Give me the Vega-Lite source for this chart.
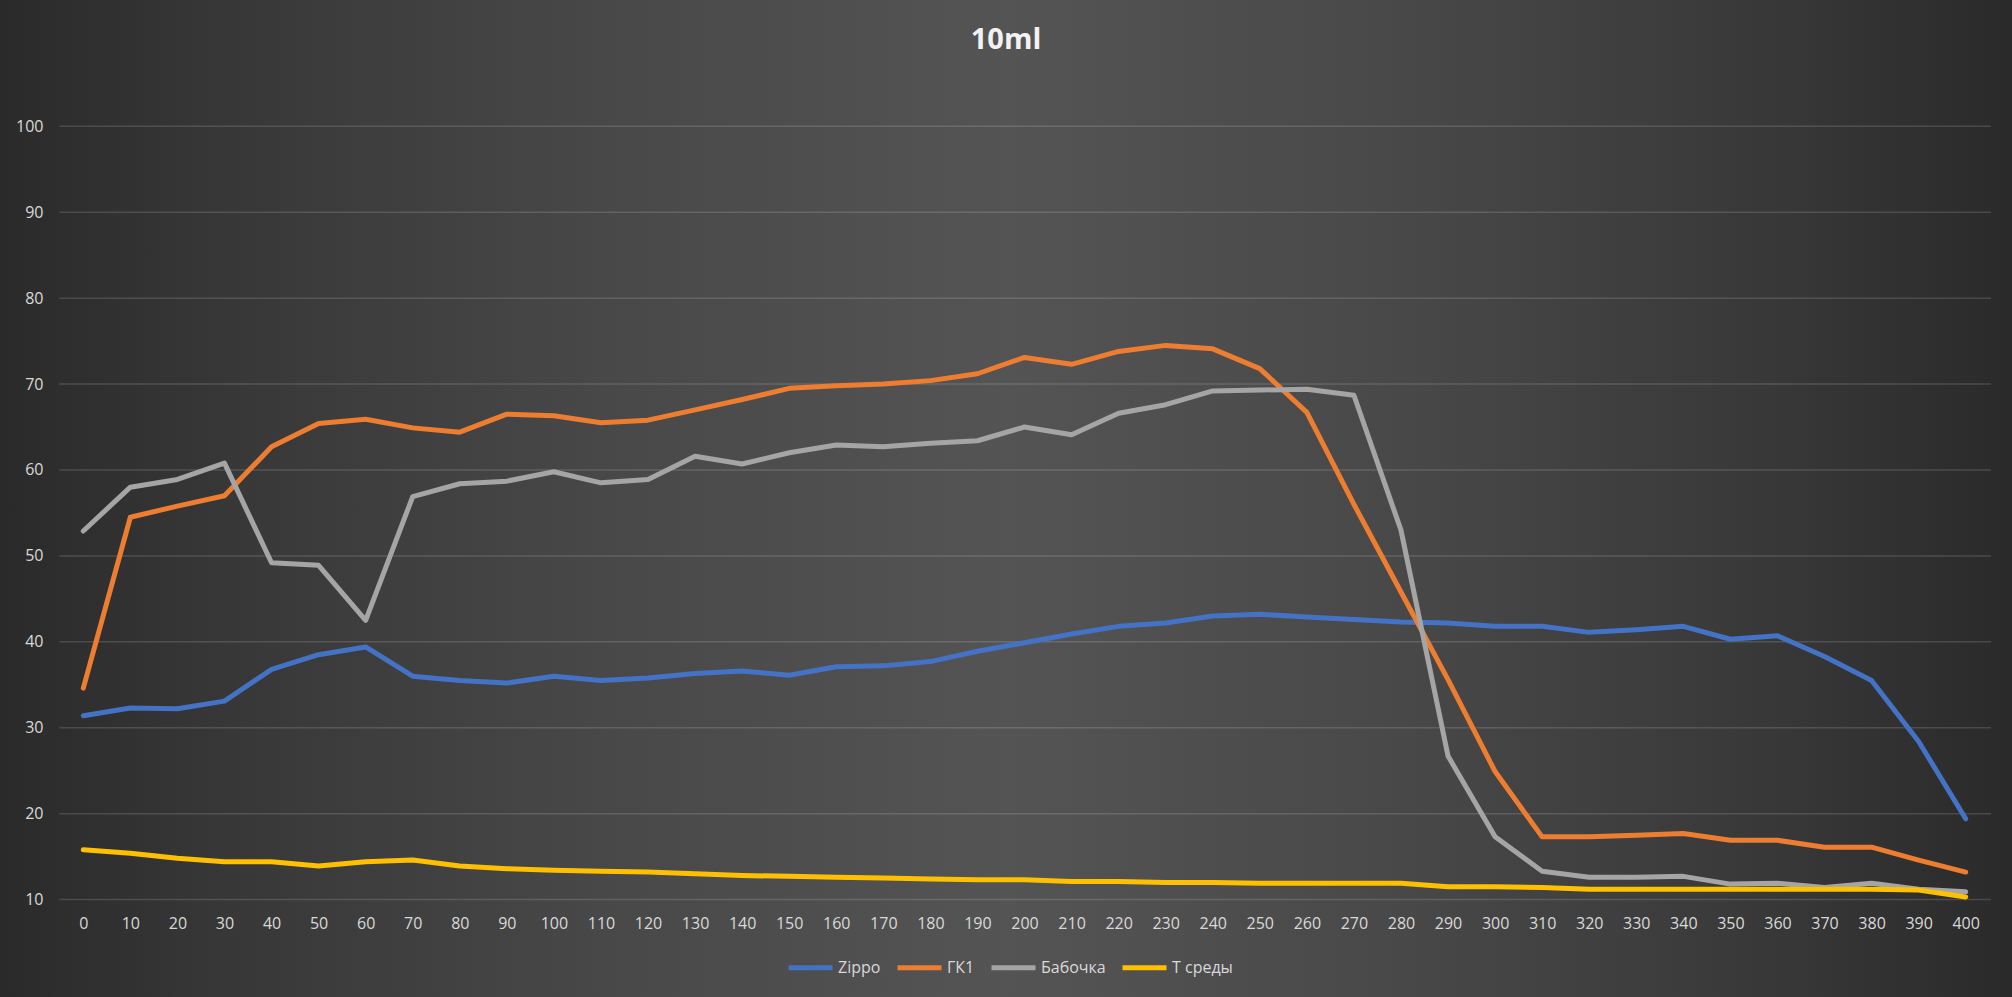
{
  "$schema": "https://vega.github.io/schema/vega-lite/v6.json",
  "width": 2012,
  "height": 997,
  "autosize": {"type": "none"},
  "padding": 0,
  "background": "#2c2c2c",
  "title": {
    "text": "10ml",
    "fontSize": 29,
    "fontWeight": "bold",
    "font": "Open Sans",
    "color": "#f2f2f2",
    "anchor": "middle",
    "baseline": "alphabetic",
    "offset": -50,
    "dy": 28
  },
  "config": {
    "font": "Open Sans",
    "view": {
      "stroke": null,
      "fill": {
        "gradient": "linear",
        "x1": 0, "y1": 0.5, "x2": 1, "y2": 0.5,
        "stops": [
          {"offset": 0, "color": "#2a2a2a"},
          {"offset": 0.12, "color": "#383838"},
          {"offset": 0.3, "color": "#484848"},
          {"offset": 0.5, "color": "#545454"},
          {"offset": 0.7, "color": "#484848"},
          {"offset": 0.88, "color": "#383838"},
          {"offset": 1, "color": "#2a2a2a"}
        ]
      }
    }
  },
  "layer": [
    {
      "data": {"values": [{"g": 10}, {"g": 20}, {"g": 30}, {"g": 40}, {"g": 50}, {"g": 60}, {"g": 70}, {"g": 80}, {"g": 90}, {"g": 100}]},
      "mark": {"type": "rule", "color": "#ffffff", "opacity": 0.14, "strokeWidth": 1.5},
      "encoding": {
        "y": {"field": "g", "type": "quantitative", "scale": {"domain": [-1.34, 114.7], "nice": false, "zero": false}},
        "x": {"datum": -5.1, "type": "quantitative", "scale": {"domain": [-17.7, 409.84], "nice": false, "zero": false}},
        "x2": {"datum": 405.4}
      }
    },
    {
      "data": {"values": [
        {"t": 0, "Zippo": 31.4, "ГК1": 34.6, "Бабочка": 52.9, "T среды": 15.8},
        {"t": 10, "Zippo": 32.3, "ГК1": 54.5, "Бабочка": 58.0, "T среды": 15.4},
        {"t": 20, "Zippo": 32.2, "ГК1": 55.8, "Бабочка": 58.9, "T среды": 14.8},
        {"t": 30, "Zippo": 33.1, "ГК1": 57.0, "Бабочка": 60.8, "T среды": 14.4},
        {"t": 40, "Zippo": 36.8, "ГК1": 62.7, "Бабочка": 49.2, "T среды": 14.4},
        {"t": 50, "Zippo": 38.5, "ГК1": 65.4, "Бабочка": 48.9, "T среды": 13.9},
        {"t": 60, "Zippo": 39.4, "ГК1": 65.9, "Бабочка": 42.5, "T среды": 14.4},
        {"t": 70, "Zippo": 36.0, "ГК1": 64.9, "Бабочка": 56.9, "T среды": 14.6},
        {"t": 80, "Zippo": 35.5, "ГК1": 64.4, "Бабочка": 58.4, "T среды": 13.9},
        {"t": 90, "Zippo": 35.2, "ГК1": 66.5, "Бабочка": 58.7, "T среды": 13.6},
        {"t": 100, "Zippo": 36.0, "ГК1": 66.3, "Бабочка": 59.8, "T среды": 13.4},
        {"t": 110, "Zippo": 35.5, "ГК1": 65.5, "Бабочка": 58.5, "T среды": 13.3},
        {"t": 120, "Zippo": 35.8, "ГК1": 65.8, "Бабочка": 58.9, "T среды": 13.2},
        {"t": 130, "Zippo": 36.3, "ГК1": 67.0, "Бабочка": 61.6, "T среды": 13.0},
        {"t": 140, "Zippo": 36.6, "ГК1": 68.2, "Бабочка": 60.7, "T среды": 12.8},
        {"t": 150, "Zippo": 36.1, "ГК1": 69.5, "Бабочка": 62.0, "T среды": 12.7},
        {"t": 160, "Zippo": 37.1, "ГК1": 69.8, "Бабочка": 62.9, "T среды": 12.6},
        {"t": 170, "Zippo": 37.2, "ГК1": 70.0, "Бабочка": 62.7, "T среды": 12.5},
        {"t": 180, "Zippo": 37.7, "ГК1": 70.4, "Бабочка": 63.1, "T среды": 12.4},
        {"t": 190, "Zippo": 38.9, "ГК1": 71.2, "Бабочка": 63.4, "T среды": 12.3},
        {"t": 200, "Zippo": 39.9, "ГК1": 73.1, "Бабочка": 65.0, "T среды": 12.3},
        {"t": 210, "Zippo": 40.9, "ГК1": 72.3, "Бабочка": 64.1, "T среды": 12.1},
        {"t": 220, "Zippo": 41.8, "ГК1": 73.8, "Бабочка": 66.6, "T среды": 12.1},
        {"t": 230, "Zippo": 42.2, "ГК1": 74.5, "Бабочка": 67.6, "T среды": 12.0},
        {"t": 240, "Zippo": 43.0, "ГК1": 74.1, "Бабочка": 69.2, "T среды": 12.0},
        {"t": 250, "Zippo": 43.2, "ГК1": 71.8, "Бабочка": 69.3, "T среды": 11.9},
        {"t": 260, "Zippo": 42.9, "ГК1": 66.7, "Бабочка": 69.4, "T среды": 11.9},
        {"t": 270, "Zippo": 42.6, "ГК1": 56.0, "Бабочка": 68.7, "T среды": 11.9},
        {"t": 280, "Zippo": 42.3, "ГК1": 45.8, "Бабочка": 53.0, "T среды": 11.9},
        {"t": 290, "Zippo": 42.2, "ГК1": 35.6, "Бабочка": 26.7, "T среды": 11.5},
        {"t": 300, "Zippo": 41.8, "ГК1": 24.9, "Бабочка": 17.3, "T среды": 11.5},
        {"t": 310, "Zippo": 41.8, "ГК1": 17.3, "Бабочка": 13.3, "T среды": 11.4},
        {"t": 320, "Zippo": 41.1, "ГК1": 17.3, "Бабочка": 12.6, "T среды": 11.2},
        {"t": 330, "Zippo": 41.4, "ГК1": 17.5, "Бабочка": 12.6, "T среды": 11.2},
        {"t": 340, "Zippo": 41.8, "ГК1": 17.7, "Бабочка": 12.7, "T среды": 11.2},
        {"t": 350, "Zippo": 40.3, "ГК1": 16.9, "Бабочка": 11.8, "T среды": 11.2},
        {"t": 360, "Zippo": 40.7, "ГК1": 16.9, "Бабочка": 11.9, "T среды": 11.2},
        {"t": 370, "Zippo": 38.3, "ГК1": 16.1, "Бабочка": 11.4, "T среды": 11.2},
        {"t": 380, "Zippo": 35.5, "ГК1": 16.1, "Бабочка": 11.9, "T среды": 11.2},
        {"t": 390, "Zippo": 28.4, "ГК1": 14.6, "Бабочка": 11.2, "T среды": 11.1},
        {"t": 400, "Zippo": 19.4, "ГК1": 13.2, "Бабочка": 10.9, "T среды": 10.3}
      ]},
      "transform": [{"fold": ["Zippo", "ГК1", "Бабочка", "T среды"], "as": ["s", "v"]}],
      "mark": {"type": "line", "strokeWidth": 5, "strokeCap": "round", "strokeJoin": "round"},
      "encoding": {
        "x": {
          "field": "t", "type": "quantitative",
          "scale": {"domain": [-17.7, 409.84], "nice": false, "zero": false},
          "axis": {
            "values": [0, 10, 20, 30, 40, 50, 60, 70, 80, 90, 100, 110, 120, 130, 140, 150, 160, 170, 180, 190, 200, 210, 220, 230, 240, 250, 260, 270, 280, 290, 300, 310, 320, 330, 340, 350, 360, 370, 380, 390, 400],
            "title": null, "grid": false, "domain": false, "ticks": false, "tickSize": 0,
            "labelPadding": 0, "offset": -82, "labelAngle": 0,
            "labelFlush": false, "labelOverlap": false,
            "labelFont": "Open Sans", "labelFontSize": 16, "labelColor": "#d9d9d9"
          }
        },
        "y": {
          "field": "v", "type": "quantitative",
          "scale": {"domain": [-1.34, 114.7], "nice": false, "zero": false},
          "axis": {
            "values": [10, 20, 30, 40, 50, 60, 70, 80, 90, 100],
            "title": null, "grid": false, "domain": false, "ticks": false, "tickSize": 0,
            "labelPadding": 0, "offset": -43,
            "labelFlush": false, "labelOverlap": false,
            "labelFont": "Open Sans", "labelFontSize": 16, "labelColor": "#d9d9d9"
          }
        },
        "color": {
          "field": "s", "type": "nominal",
          "scale": {"domain": ["Zippo", "ГК1", "Бабочка", "T среды"], "range": ["#4472C4", "#ED7D31", "#A5A5A5", "#FFC000"]},
          "legend": {
            "title": null, "orient": "none", "direction": "horizontal",
            "legendX": 786, "legendY": 943,
            "symbolType": "stroke", "symbolSize": 1936, "symbolStrokeWidth": 5,
            "labelFont": "Open Sans", "labelFontSize": 16, "labelColor": "#d9d9d9",
            "labelOffset": 3, "columnPadding": 6
          }
        }
      }
    }
  ]
}
